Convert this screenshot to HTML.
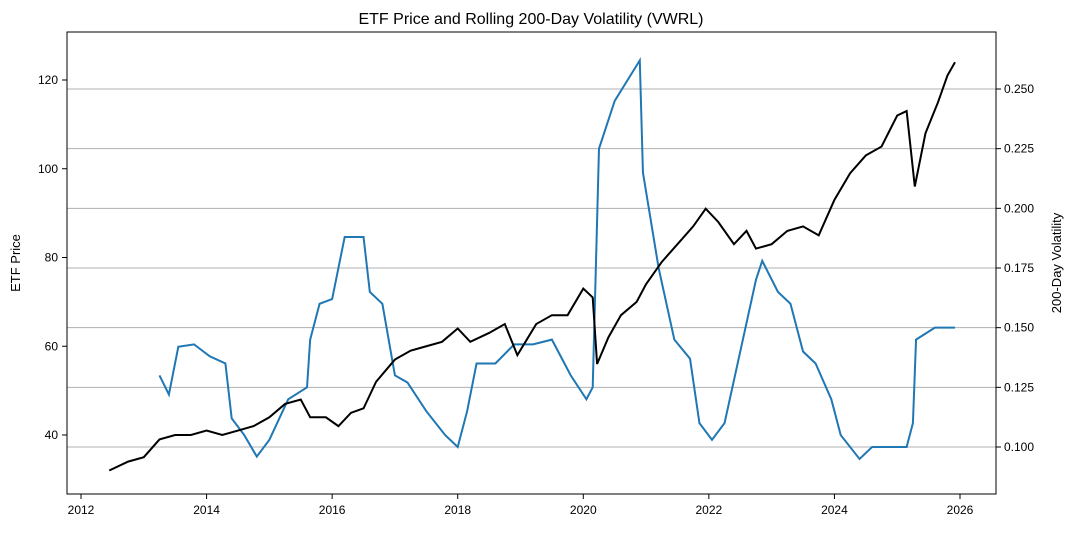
<!DOCTYPE html>
<html><head><meta charset="utf-8"><style>
body{margin:0;background:#fff;font-family:"Liberation Sans",sans-serif}
text{font-family:"Liberation Sans",sans-serif;fill:#000}
</style></head><body>
<svg id="chart" width="1074" height="528" viewBox="0 0 1074 528" xmlns="http://www.w3.org/2000/svg">
<text x="531" y="24" text-anchor="middle" font-size="16">ETF Price and Rolling 200-Day Volatility (VWRL)</text>
<g id="grid"></g>
<g id="series"></g>
<rect x="67" y="32" width="929" height="462" fill="none" stroke="#000" stroke-width="1"/>
<g id="axes"></g>
<text transform="translate(20,263) rotate(-90)" text-anchor="middle" font-size="13">ETF Price</text>
<text transform="translate(1061,263) rotate(-90)" text-anchor="middle" font-size="13">200-Day Volatility</text>
</svg>
<script>
const priceYears=[2012.45,2012.75,2013.0,2013.25,2013.5,2013.75,2014.0,2014.25,2014.5,2014.75,2015.0,2015.25,2015.5,2015.65,2015.9,2016.1,2016.3,2016.5,2016.7,2017.0,2017.25,2017.5,2017.75,2018.0,2018.2,2018.5,2018.75,2018.95,2019.25,2019.5,2019.75,2020.0,2020.15,2020.22,2020.4,2020.6,2020.85,2021.0,2021.25,2021.5,2021.75,2021.95,2022.15,2022.4,2022.6,2022.75,2023.0,2023.25,2023.5,2023.75,2024.0,2024.25,2024.5,2024.75,2025.0,2025.15,2025.28,2025.45,2025.65,2025.8,2025.92];
const priceValues=[32,34,35,39,40,40,41,40,41,42,44,47,48,44,44,42,45,46,52,57,59,60,61,64,61,63,65,58,65,67,67,73,71,56,62,67,70,74,79,83,87,91,88,83,86,82,83,86,87,85,93,99,103,105,112,113,96,108,115,121,124];
const volYears=[2013.25,2013.4,2013.55,2013.8,2014.05,2014.3,2014.4,2014.6,2014.8,2015.0,2015.3,2015.6,2015.65,2015.8,2016.0,2016.2,2016.5,2016.6,2016.8,2017.0,2017.2,2017.5,2017.8,2018.0,2018.15,2018.3,2018.6,2018.9,2019.2,2019.5,2019.8,2020.05,2020.15,2020.25,2020.5,2020.9,2020.95,2021.2,2021.45,2021.7,2021.85,2022.05,2022.25,2022.5,2022.75,2022.85,2023.1,2023.3,2023.5,2023.7,2023.95,2024.1,2024.4,2024.6,2024.9,2025.15,2025.25,2025.3,2025.6,2025.92];
const volValues=[0.13,0.122,0.142,0.143,0.138,0.135,0.112,0.105,0.096,0.103,0.12,0.125,0.145,0.16,0.162,0.188,0.188,0.165,0.16,0.13,0.127,0.115,0.105,0.1,0.115,0.135,0.135,0.143,0.143,0.145,0.13,0.12,0.125,0.225,0.245,0.262,0.215,0.175,0.145,0.137,0.11,0.103,0.11,0.14,0.17,0.178,0.165,0.16,0.14,0.135,0.12,0.105,0.095,0.1,0.1,0.1,0.11,0.145,0.15,0.15];
const xTicks=[2012,2014,2016,2018,2020,2022,2024,2026];
const leftTicks=[40,60,80,100,120];
const rightTicks=[0.100,0.125,0.150,0.175,0.200,0.225,0.250];

const NS="http://www.w3.org/2000/svg";
const x=v=>81+(v-2012)*(879/14);
const yL=v=>435-(v-40)*(355/80);
const yR=v=>447-(v-0.1)*(358/0.15);
function mk(tag,attrs,parent){const e=document.createElementNS(NS,tag);for(const k in attrs)e.setAttribute(k,attrs[k]);parent.appendChild(e);return e;}
const grid=document.getElementById('grid'),series=document.getElementById('series'),axes=document.getElementById('axes');
rightTicks.forEach(t=>{const l=mk('line',{x1:67,x2:996,y1:yR(t),y2:yR(t),stroke:'#b0b0b0','stroke-width':1},grid);

});
const vp=mk('polyline',{points:volYears.map((d,i)=>x(d)+','+yR(volValues[i])).join(' '),fill:'none',stroke:'#1f77b4','stroke-width':2},series);


const pp=mk('polyline',{points:priceYears.map((d,i)=>x(d)+','+yL(priceValues[i])).join(' '),fill:'none',stroke:'#000','stroke-width':2},series);


xTicks.forEach(t=>{mk('line',{x1:x(t),x2:x(t),y1:494,y2:499,stroke:'#000'},axes);
const tx=mk('text',{x:x(t),y:514,'text-anchor':'middle','font-size':12},axes);tx.textContent=t;

});
leftTicks.forEach(t=>{mk('line',{x1:62,x2:67,y1:yL(t),y2:yL(t),stroke:'#000'},axes);
const tx=mk('text',{x:58,y:yL(t)+4,'text-anchor':'end','font-size':12},axes);tx.textContent=t;

});
rightTicks.forEach(t=>{mk('line',{x1:996,x2:1001,y1:yR(t),y2:yR(t),stroke:'#000'},axes);
const tx=mk('text',{x:1004,y:yR(t)+4,'font-size':12},axes);tx.textContent=t.toFixed(3);

});
</script>
</body></html>
